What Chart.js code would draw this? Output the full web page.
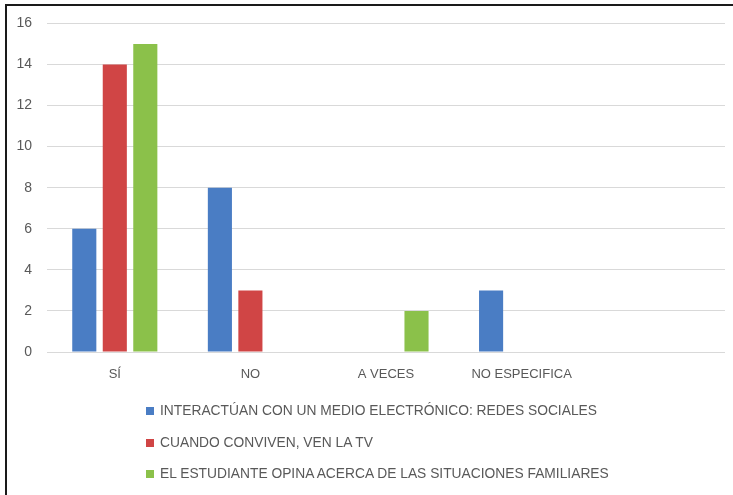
<!DOCTYPE html>
<html>
<head>
<meta charset="utf-8">
<script src="https://cdn.jsdelivr.net/npm/chart.js@4.4.1/dist/chart.umd.min.js"></script>
<style>
  html, body { margin: 0; padding: 0; background: #fff; }
  #wrap { position: relative; width: 733px; height: 495px; overflow: hidden; }
  #marco { position: absolute; left: 5px; top: 4px; width: 760px; height: 520px;
           border-left: 2px solid #1a1a1a; border-top: 2px solid #1a1a1a; }
  #grafico { position: absolute; left: 0; top: 0; }
  #leyenda { position: absolute; left: 0; top: 0; font: 13.8px "Liberation Sans", Arial, sans-serif; color: #595959; }
  .item { position: absolute; left: 146px; white-space: nowrap; line-height: 16px; }
  .caja { display: inline-block; width: 8px; height: 8px; margin-right: 6px; vertical-align: 0px; }
</style>
</head>
<body>
<div id="wrap">
  <div id="marco"></div>
  <canvas id="grafico" width="733" height="495"></canvas>
  <div id="leyenda"></div>
</div>
<script>
var categorias = ['SÍ', 'NO', 'A VECES', 'NO ESPECIFICA', ''];
var series = ['INTERACTÚAN CON UN MEDIO ELECTRÓNICO: REDES SOCIALES',
              'CUANDO CONVIVEN, VEN LA TV',
              'EL ESTUDIANTE OPINA ACERCA DE LAS SITUACIONES FAMILIARES'];
var redesSociales = [6, 8, 0, 3, 0];
var venTv = [14, 3, 0, 0, 0];
var opinaFamilia = [15, 0, 2, 0, 0];
var colores = ['#4a7dc4', '#d04545', '#8bc14a'];

var fuente = { family: '"Liberation Sans", Arial, sans-serif', size: 13 };

function serie(i, data) {
  return {
    label: series[i],
    data: data,
    backgroundColor: colores[i],
    borderWidth: 0,
    categoryPercentage: 0.675,
    barPercentage: 0.79
  };
}

var grafico = new Chart(document.getElementById('grafico'), {
  type: 'bar',
  data: {
    labels: categorias,
    datasets: [serie(0, redesSociales), serie(1, venTv), serie(2, opinaFamilia)]
  },
  options: {
    responsive: false,
    animation: false,
    layout: { padding: { top: 20, right: 8, bottom: 0, left: 0 } },
    plugins: { legend: { display: false }, tooltip: { enabled: false } },
    scales: {
      x: {
        grid: { display: false, drawTicks: false },
        border: { display: false },
        ticks: { color: '#595959', font: fuente, padding: 15, maxRotation: 0, autoSkip: false },
        afterFit: function (s) { s.height = 143; }
      },
      y: {
        min: 0,
        max: 16,
        ticks: { stepSize: 2, color: '#595959', font: { family: fuente.family, size: 14 }, padding: 15 },
        grid: { color: '#d9d9d9', drawTicks: false },
        border: { display: false },
        afterFit: function (s) { s.width = 47; }
      }
    }
  }
});

// leyenda en columna, como en el original
var leyenda = document.getElementById('leyenda');
var filas = [411, 443, 474];
series.forEach(function (nombre, i) {
  var d = document.createElement('div');
  d.className = 'item';
  d.style.top = (filas[i] - 8) + 'px';
  d.innerHTML = '<span class="caja" style="background:' + colores[i] + '"></span>' + nombre;
  leyenda.appendChild(d);
});
</script>
</body>
</html>
